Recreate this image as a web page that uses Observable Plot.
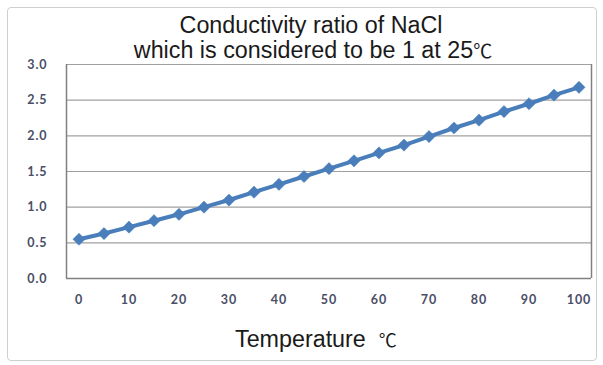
<!DOCTYPE html>
<html>
<head>
<meta charset="utf-8">
<script src="https://cdn.jsdelivr.net/npm/d3@7"></script>
<script src="https://cdn.jsdelivr.net/npm/@observablehq/plot@0.6"></script>
<style>
  html, body { margin: 0; padding: 0; background: #fff; }
  #wrap { position: relative; width: 603px; height: 365px; overflow: hidden; }
  #box { position: absolute; left: 7px; top: 7px; width: 590px; height: 354px; border: 1px solid #cfcfcf; border-radius: 4px; box-sizing: border-box; }
  #chart { position: absolute; left: 0; top: 0; }
  .t { position: absolute; font-family: "Liberation Sans", Arial, sans-serif; color: #1a1a1a; white-space: nowrap; line-height: 1; }
  .c { transform: translateX(-50%); }
  .deg { font-family: "Noto Sans CJK JP", sans-serif; line-height: 0.8; }
</style>
</head>
<body>
<div id="wrap">
  <div id="box"></div>
  <div id="chart"></div>
  <div class="t c" style="left:311px; top:13.5px; font-size:23.3px;">Conductivity ratio of NaCl</div>
  <div class="t c" style="left:313px; top:38.5px; font-size:23.3px;">which is considered to be 1 at 25<span class="deg" style="font-size:19px;">℃</span></div>
  <div class="t" style="left:235px; top:328px; font-size:23.3px;">Temperature &nbsp;<span class="deg" style="font-size:18px;">℃</span></div>
</div>
<script>
const temperatures = [0, 5, 10, 15, 20, 25, 30, 35, 40, 45, 50, 55, 60, 65, 70, 75, 80, 85, 90, 95, 100];
const ratios = [0.55, 0.63, 0.72, 0.81, 0.90, 1.00, 1.10, 1.21, 1.32, 1.43, 1.54, 1.65, 1.76, 1.87, 1.99, 2.11, 2.22, 2.34, 2.45, 2.57, 2.68];
const xTicks = [0, 10, 20, 30, 40, 50, 60, 70, 80, 90, 100];
const yTicks = [0, 0.5, 1.0, 1.5, 2.0, 2.5, 3.0];

const data = temperatures.map((t, i) => ({t, r: ratios[i]}));
const blue = "#4a7ebb";

const plot = Plot.plot({
  width: 603,
  height: 365,
  marginLeft: 66,
  marginRight: 12,
  marginTop: 64,
  marginBottom: 87,
  style: {fontFamily: "Lato, 'Open Sans', sans-serif", fontSize: "12.5px", fontWeight: "bold", color: "#4a4e66", background: "transparent", letterSpacing: "0.9px"},
  x: {domain: [-2.5, 102.5], ticks: xTicks, tickSize: 0, tickPadding: 17, label: null},
  y: {domain: [0, 3], ticks: yTicks, tickSize: 0, tickPadding: 19, tickFormat: d3.format(".1f"), label: null},
  marks: [
    Plot.ruleY(yTicks, {stroke: "#a0a0a0", strokeWidth: 1.2}),
    Plot.ruleX([-2.5, 102.5], {stroke: "#808080", strokeWidth: 1.5}),
    Plot.ruleY([0], {stroke: "#808080", strokeWidth: 1.5}),
    Plot.axisX({ticks: xTicks, tickSize: 0, tickPadding: 17, label: null}),
    Plot.axisY({ticks: yTicks, tickSize: 0, tickPadding: 19, tickFormat: d3.format(".1f"), label: null}),
    Plot.line(data, {x: "t", y: "r", stroke: blue, strokeWidth: 4}),
    Plot.dot(data, {x: "t", y: "r", symbol: "diamond2", r: 5.5, fill: blue, stroke: blue, strokeWidth: 0.5})
  ]
});
document.getElementById("chart").appendChild(plot);
</script>
</body>
</html>
